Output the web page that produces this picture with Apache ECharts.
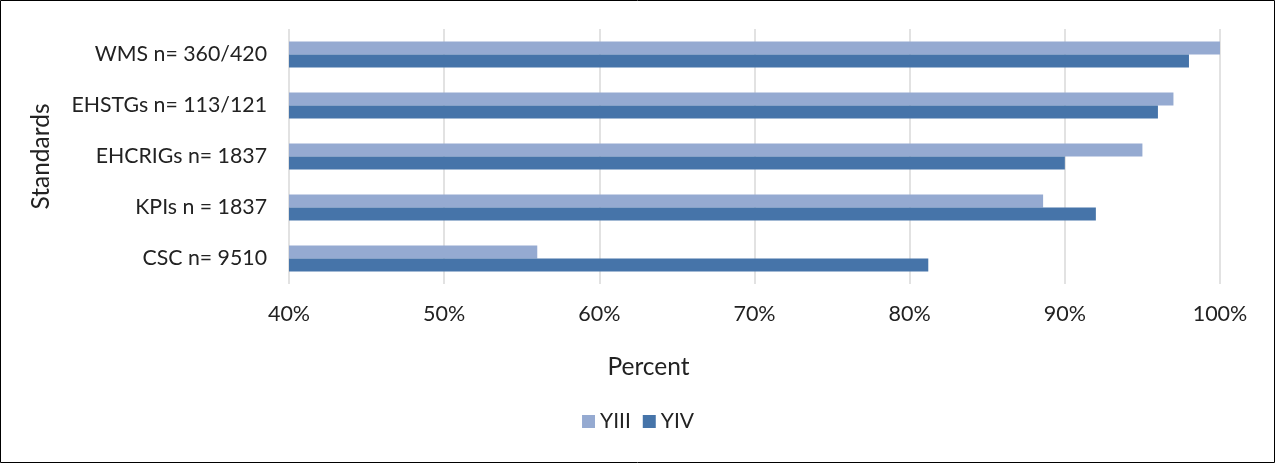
<!DOCTYPE html>
<html>
<head>
<meta charset="utf-8">
<script src="https://cdn.jsdelivr.net/npm/echarts@6/dist/echarts.min.js"></script>
<style>
  html, body { margin: 0; padding: 0; background: #fff; }
  #chart { width: 1276px; height: 465px; }
</style>
</head>
<body>
<div id="chart"></div>
<script>
// Standards compliance by year (percent)
const categories = ['WMS n= 360/420', 'EHSTGs n= 113/121', 'EHCRIGs n= 1837', 'KPIs n = 1837', 'CSC n= 9510'];
const yiii = [100, 97, 95, 88.6, 56];
const yiv = [98, 96, 90, 92, 81.2];
const xTicks = [40, 50, 60, 70, 80, 90, 100];

const FONT = 'Lato';
const chart = echarts.init(document.getElementById('chart'));
chart.setOption({
  animation: false,
  textStyle: { fontFamily: FONT },
  graphic: [{
    type: 'rect',
    shape: { x: 0.5, y: 0.5, width: 1274, height: 462 },
    style: { fill: 'none', stroke: '#000', lineWidth: 1 },
    silent: true
  }],
  legend: {
    data: ['YIII', 'YIV'],
    bottom: 28,
    left: 'center',
    itemWidth: 13,
    itemHeight: 13,
    itemGap: 12,
    icon: 'rect',
    textStyle: { fontSize: 21, color: '#222', fontFamily: FONT }
  },
  grid: { left: 289, right: 56, top: 29, height: 255 },
  xAxis: {
    type: 'value',
    min: xTicks[0],
    max: xTicks[xTicks.length - 1],
    interval: 10,
    name: 'Percent',
    nameLocation: 'middle',
    nameGap: 71,
    // title sits centred on the whole chart rather than the plot
    nameTextStyle: { fontSize: 24.5, color: '#222', fontFamily: FONT, padding: [0, 212, 0, 0] },
    axisLine: { show: false },
    axisTick: { show: false },
    axisLabel: { fontSize: 21.5, color: '#222', margin: 19, formatter: v => v + '%' },
    splitLine: { lineStyle: { color: '#d9d9d9', width: 1.5 } }
  },
  yAxis: {
    type: 'category',
    data: categories,
    inverse: true,
    name: 'Standards',
    nameLocation: 'middle',
    nameGap: 235,
    nameTextStyle: { fontSize: 24.5, color: '#222', fontFamily: FONT },
    axisLine: { show: false },
    axisTick: { show: false },
    axisLabel: { fontSize: 21.3, color: '#222', margin: 22 }
  },
  series: [
    {
      name: 'YIII', type: 'bar', data: yiii,
      barWidth: 13, barGap: '0%',
      itemStyle: { color: '#95AAD1' }
    },
    {
      name: 'YIV', type: 'bar', data: yiv,
      barWidth: 13, barGap: '0%',
      itemStyle: { color: '#4674A9' }
    }
  ]
});
</script>
</body>
</html>
